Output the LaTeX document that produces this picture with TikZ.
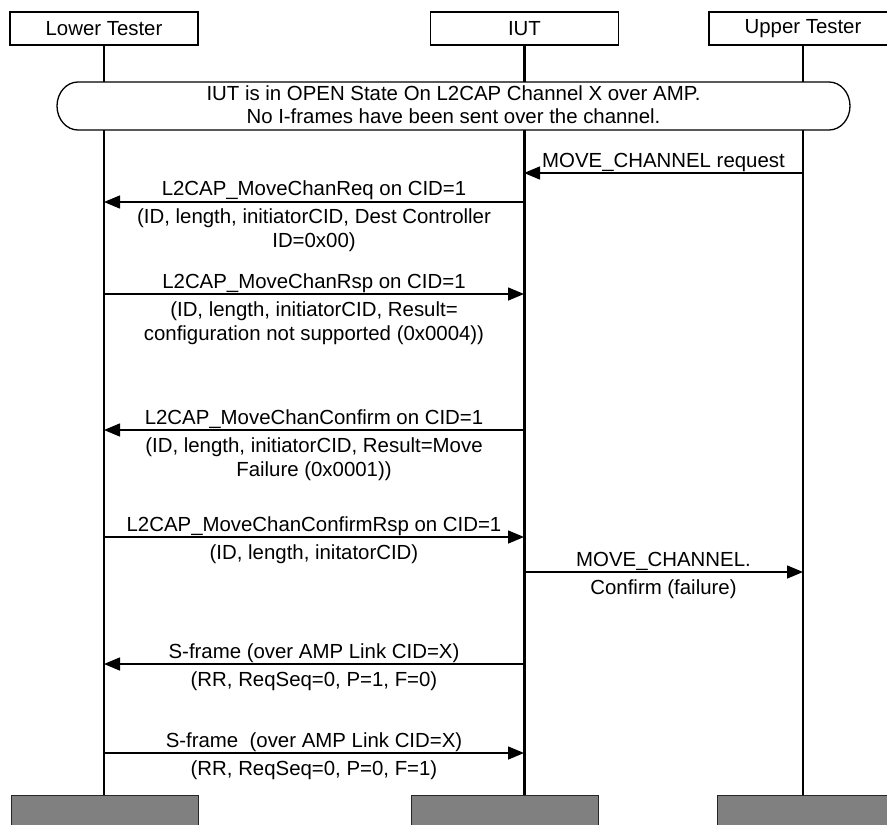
\documentclass[tikz,border=0pt]{standalone}
\usepackage{fontspec}
\setmainfont{Liberation Sans}
\usetikzlibrary{arrows.meta}
\begin{document}
\begin{tikzpicture}[x=1pt,y=-1pt,
  hdr/.style={draw=black,line width=1.3pt,fill=white,minimum width=188pt,minimum height=33pt,inner sep=0pt,font=\fontsize{20.4}{23.5}\selectfont},
  foot/.style={draw=black!85,line width=1pt,fill=black!50,minimum width=187pt,minimum height=40pt,anchor=north,inner sep=0pt},
  life/.style={line width=2.2pt},
  msg/.style={line width=1.5pt,-{Triangle[length=16pt,width=13pt]}},
  lbl/.style={font=\fontsize{20.4}{23.5}\selectfont,anchor=base,inner sep=0pt},
  statebox/.style={line width=1.3pt,fill=white},
]
\useasboundingbox (0,0) rectangle (887,825);

% header and footer boxes
\node[hdr] (lt) at (104,28.5) {Lower Tester};
\node[hdr] (iut) at (524.5,28.5) {IUT};
\node[hdr] (ut) at (803,28.5) {Upper Tester};
\node[foot] (lf) at (104.5,795) {};
\node[foot] (if) at (505,795) {};
\node[foot] (uf) at (810.5,795) {};

% lifelines
\draw[life] (lt.south) -- (lt.south |- lf.north);
\draw[life] (iut.south) -- (iut.south |- if.north);
\draw[life] (ut.south) -- (ut.south |- uf.north);

% state box
\draw[statebox] (78,82) -- (829,82) arc[start angle=-90,end angle=90,x radius=21,y radius=24]
  -- (78,130) arc[start angle=90,end angle=270,x radius=21,y radius=24] -- cycle;
\node[lbl] (st1) at (453.5,100) {IUT is in OPEN State On L2CAP Channel X over AMP.};
\node[lbl] (st2) at (453.5,123) {No I-frames have been sent over the channel.};

% coordinates on lifelines
\foreach \n/\y in {1/173,2/202,3/294,4/430,5/537,6/572,7/664,8/753}{
  \coordinate (l\n) at (104,\y);
  \coordinate (i\n) at (524,\y);
  \coordinate (u\n) at (803,\y);
}

% 1
\draw[msg] (u1) -- (i1);
\node[lbl] (m1a) at (663.5,167) {MOVE\_CHANNEL request};
% 2
\draw[msg] (i2) -- (l2);
\node[lbl] (m2a) at (314,195) {L2CAP\_MoveChanReq on CID=1};
\node[lbl] (m2b) at (314,223.5) {(ID, length, initiatorCID, Dest Controller};
\node[lbl] (m2c) at (314,247) {ID=0x00)};
% 3
\draw[msg] (l3) -- (i3);
\node[lbl] (m3a) at (314,288) {L2CAP\_MoveChanRsp on CID=1};
\node[lbl] (m3b) at (314,316.5) {(ID, length, initiatorCID, Result=};
\node[lbl] (m3c) at (314,340) {configuration not supported (0x0004))};
% 4
\draw[msg] (i4) -- (l4);
\node[lbl] (m4a) at (314,424) {L2CAP\_MoveChanConfirm on CID=1};
\node[lbl] (m4b) at (314,452.5) {(ID, length, initiatorCID, Result=Move};
\node[lbl] (m4c) at (314,476) {Failure (0x0001))};
% 5
\draw[msg] (l5) -- (i5);
\node[lbl] (m5a) at (314,531) {L2CAP\_MoveChanConfirmRsp on CID=1};
\node[lbl] (m5b) at (314,559.5) {(ID, length, initatorCID)};
% 6
\draw[msg] (i6) -- (u6);
\node[lbl] (m6a) at (663.5,566) {MOVE\_CHANNEL.};
\node[lbl] (m6b) at (663.5,594.5) {Confirm (failure)};
% 7
\draw[msg] (i7) -- (l7);
\node[lbl] (m7a) at (314,658) {S-frame (over AMP Link CID=X)};
\node[lbl] (m7b) at (314,686.5) {(RR, ReqSeq=0, P=1, F=0)};
% 8
\draw[msg] (l8) -- (i8);
\node[lbl] (m8a) at (314,747) {S-frame\ \ (over AMP Link CID=X)};
\node[lbl] (m8b) at (314,775.5) {(RR, ReqSeq=0, P=0, F=1)};
\end{tikzpicture}
\end{document}
